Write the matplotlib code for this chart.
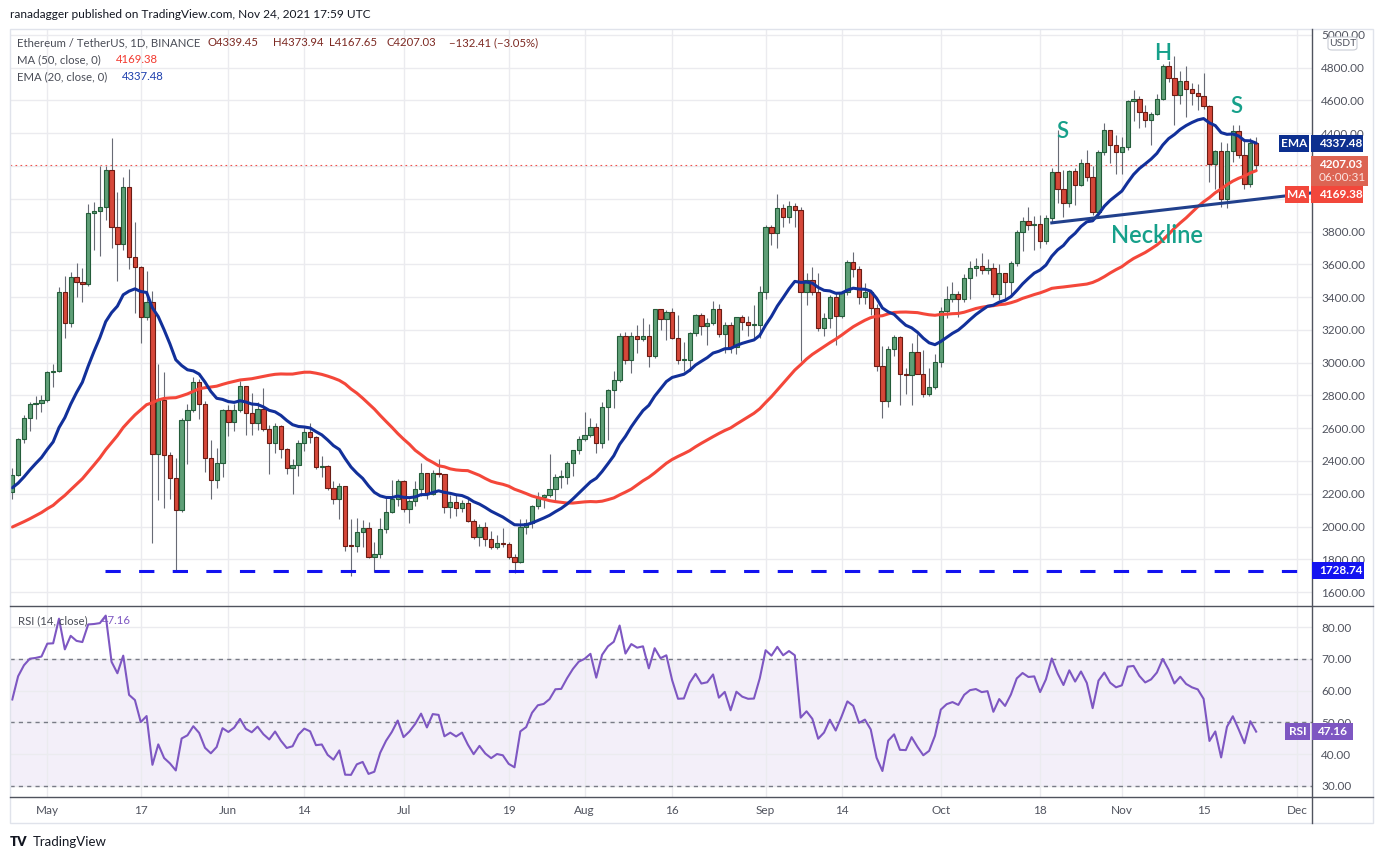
import numpy as np
import pandas as pd
import matplotlib
matplotlib.use("Agg")
import matplotlib.pyplot as plt
from matplotlib.patches import Rectangle, FancyBboxPatch
from matplotlib.lines import Line2D

W, H = 1383, 860
plt.rcParams['font.family'] = ['Lato', 'DejaVu Sans']

# daily closes before the visible window (Mar 6 - Apr 24), only used for MA/EMA/RSI warm-up
closes_before = [1655, 1725, 1835, 1870, 1795, 1826, 1772, 1924, 1854, 1792, 1806, 1823, 1781,
                 1812, 1810, 1787, 1690, 1672, 1583, 1587, 1701, 1716, 1692, 1817, 1847, 1919,
                 1977, 2143, 2028, 2093, 2107, 2113, 1963, 2083, 2071, 2135, 2157, 2139, 2299,
                 2432, 2514, 2422, 2355, 2237, 2163, 2331, 2357, 2402, 2364, 2210]

# visible candles, Apr 25 - Nov 24 2021 (ETH/USDT 1D)
close_apr = [2316, 2534, 2662, 2746, 2756, 2773]
high_apr = [2360, 2540, 2680, 2760, 2798, 2800]
low_apr = [2166, 2306, 2510, 2580, 2655, 2700]

close_may = [2945, 2950, 3431, 3240, 3525, 3490, 3482, 3912, 3925, 3950, 4176, 3826, 3723, 4074,
             3647, 3582, 3281, 3372, 2441, 2772, 2437, 2294, 2101, 2649, 2710, 2884, 2746, 2416,
             2284, 2386, 2711]
high_may = [2950, 2990, 3460, 3530, 3555, 3610, 3580, 3970, 3980, 4197, 4200, 4372, 4040, 4135,
            4180, 3860, 3590, 3560, 3440, 2990, 2945, 2455, 2420, 2660, 2750, 2915, 2900, 2765,
            2530, 2480, 2715]
low_may = [2760, 2850, 2940, 3150, 3220, 3400, 3370, 3470, 3690, 3650, 3870, 3700, 3500, 3690,
           3570, 3300, 3120, 3260, 1900, 2160, 2115, 2170, 1729, 2090, 2380, 2700, 2655, 2330,
           2170, 2235, 2300]

close_jun = [2636, 2711, 2860, 2690, 2630, 2715, 2593, 2508, 2613, 2471, 2355, 2375, 2508, 2579,
             2545, 2365, 2372, 2233, 2166, 2247, 1883, 1880, 1969, 1989, 1815, 1832, 1983, 2087,
             2168, 2276]
high_jun = [2740, 2745, 2890, 2860, 2815, 2760, 2845, 2620, 2630, 2620, 2480, 2410, 2525, 2610,
            2633, 2550, 2430, 2375, 2277, 2265, 2250, 2045, 2055, 2040, 2030, 1905, 2050, 2185,
            2285, 2290]
low_jun = [2550, 2580, 2700, 2560, 2560, 2590, 2580, 2320, 2450, 2420, 2320, 2200, 2310, 2460,
           2510, 2350, 2300, 2225, 2135, 2045, 1850, 1700, 1845, 1875, 1805, 1720, 1805, 1960,
           2080, 2125]

close_jul = [2105, 2156, 2227, 2325, 2197, 2325, 2318, 2117, 2148, 2112, 2142, 2034, 1938, 1995,
             1922, 1877, 1902, 1891, 1816, 1785, 1995, 2024, 2125, 2182, 2192, 2227, 2301, 2304,
             2386, 2465, 2532]
high_jul = [2282, 2165, 2280, 2390, 2325, 2347, 2410, 2320, 2190, 2190, 2160, 2180, 2045, 2018,
            2030, 1975, 1950, 1990, 1905, 1830, 2045, 2045, 2130, 2210, 2200, 2440, 2320, 2345,
            2400, 2470, 2550]
low_jul = [2090, 2020, 2125, 2185, 2170, 2195, 2300, 2085, 2055, 2065, 2090, 2030, 1925, 1880,
           1880, 1860, 1860, 1875, 1800, 1718, 1780, 1955, 1990, 2105, 2110, 2180, 2150, 2235,
           2260, 2310, 2445]

close_aug = [2559, 2607, 2508, 2728, 2833, 2894, 3163, 3015, 3163, 3143, 3163, 3043, 3326, 3265,
             3307, 3149, 3015, 3018, 3183, 3291, 3226, 3240, 3326, 3173, 3230, 3098, 3281, 3245,
             3230, 3232, 3430]
high_aug = [2697, 2665, 2630, 2760, 2840, 2950, 3180, 3185, 3185, 3230, 3275, 3235, 3330, 3330,
            3320, 3335, 3290, 3125, 3185, 3295, 3305, 3270, 3375, 3360, 3245, 3250, 3280, 3290,
            3285, 3350, 3470]
low_aug = [2520, 2545, 2450, 2480, 2530, 2725, 2880, 2990, 2935, 3060, 3130, 2975, 3030, 3200,
           3140, 3145, 2990, 2950, 2950, 3160, 3170, 3110, 3230, 3155, 3060, 3060, 3055, 3200,
           3160, 3150, 3150]

close_sep = [3826, 3790, 3942, 3887, 3956, 3930, 3433, 3505, 3430, 3210, 3271, 3403, 3287, 3433,
             3613, 3570, 3399, 3433, 3332, 2980, 2768, 3082, 3155, 2929, 2925, 3063, 2930, 2807,
             2850, 3002]
high_sep = [3840, 3840, 4030, 3970, 3985, 3975, 3952, 3550, 3585, 3550, 3300, 3415, 3425, 3440,
            3625, 3675, 3590, 3485, 3440, 3360, 3100, 3100, 3170, 3160, 2970, 3120, 3175, 3080,
            2965, 3050]
low_sep = [3390, 3720, 3700, 3830, 3850, 3830, 3010, 3350, 3410, 3195, 3160, 3210, 3110, 3270,
           3415, 3520, 3360, 3355, 3290, 2950, 2661, 2730, 3040, 2740, 2810, 2740, 2930, 2790,
           2795, 2840]

close_oct = [3315, 3389, 3417, 3389, 3515, 3576, 3590, 3566, 3576, 3417, 3545, 3491, 3607, 3796,
             3867, 3840, 3847, 3745, 3881, 4162, 4058, 3973, 4168, 4084, 4221, 4135, 3922, 4288,
             4420, 4329, 4288]
high_oct = [3340, 3470, 3490, 3440, 3540, 3620, 3640, 3670, 3630, 3610, 3600, 3545, 3620, 3810,
            3890, 3950, 3895, 3900, 3900, 4185, 4420, 4175, 4175, 4185, 4240, 4300, 4200, 4300,
            4460, 4420, 4390]
low_oct = [2975, 3270, 3370, 3280, 3370, 3390, 3530, 3540, 3540, 3400, 3380, 3390, 3415, 3590,
           3680, 3810, 3690, 3700, 3725, 3850, 3975, 3890, 3950, 3960, 4075, 4110, 3900, 3880,
           4270, 4220, 4150]

close_nov = [4315, 4597, 4610, 4532, 4481, 4520, 4610, 4811, 4736, 4634, 4720, 4668, 4644, 4630,
             4567, 4211, 4292, 3997, 4294, 4414, 4265, 4089, 4339, 4207.03]
high_nov = [4380, 4600, 4665, 4625, 4570, 4530, 4640, 4825, 4840, 4870, 4780, 4810, 4705, 4700,
            4770, 4570, 4300, 4345, 4340, 4450, 4450, 4350, 4370, 4373.94]
low_nov = [4150, 4300, 4475, 4430, 4440, 4330, 4510, 4605, 4710, 4450, 4580, 4500, 4570, 4540,
           4550, 4100, 4060, 3950, 3945, 4225, 4250, 4060, 4070, 4167.65]

tick_dates = ["2021-05-01", "2021-05-17", "2021-06-01", "2021-06-14", "2021-07-01", "2021-07-19",
              "2021-08-01", "2021-08-16", "2021-09-01", "2021-09-14", "2021-10-01", "2021-10-18",
              "2021-11-01", "2021-11-15", "2021-12-01"]
tick_labels = ["May", "17", "Jun", "14", "Jul", "19", "Aug", "16", "Sep", "14", "Oct", "18",
               "Nov", "15", "Dec"]

# values shown in the legend / price scale
last_open, last_high, last_low, last_close = 4339.45, 4373.94, 4167.65, 4207.03
last_change, last_change_pct = -132.41, -3.05
ma_last, ema_last, rsi_last = 4169.38, 4337.48, 47.16
support = 1728.74
hidden_price_labels = [4000, 4200]   # covered by the MA / last price tags

closes = np.array(close_apr + close_may + close_jun + close_jul + close_aug + close_sep
                  + close_oct + close_nov, dtype=float)
highs = np.array(high_apr + high_may + high_jun + high_jul + high_aug + high_sep
                 + high_oct + high_nov, dtype=float)
lows = np.array(low_apr + low_may + low_jun + low_jul + low_aug + low_sep
                + low_oct + low_nov, dtype=float)
opens = np.r_[closes_before[-1], closes[:-1]]
opens[-1] = last_open
highs = np.maximum(highs, np.maximum(opens, closes))
lows = np.minimum(lows, np.minimum(opens, closes))

dates = pd.date_range("2021-04-25", "2021-11-24", freq="D")
assert len(dates) == len(closes) == len(highs) == len(lows)
origin = pd.Timestamp("2021-05-01")
x = np.asarray((dates - origin).days, dtype=float)
tick_x = [(pd.Timestamp(d) - origin).days for d in tick_dates]

# indicators
n0 = len(closes_before)
s = pd.Series(closes_before + list(closes))
ma50 = s.rolling(50).mean().values[n0:]
ema20 = s.ewm(span=20, adjust=False).mean().values[n0:]
delta = s.diff()
up_avg = delta.clip(lower=0).ewm(alpha=1 / 14, adjust=False).mean()
dn_avg = (-delta.clip(upper=0)).ewm(alpha=1 / 14, adjust=False).mean()
rsi = (100 - 100 / (1 + up_avg / dn_avg)).values[n0:]

# =========================
# figure / panes
# =========================
fig = plt.figure(figsize=(W / 100, H / 100), dpi=100)
fig.patch.set_facecolor("white")


def rect(x0, y0, x1, y1):
    return [x0 / W, 1 - y1 / H, (x1 - x0) / W, (y1 - y0) / H]


ax = fig.add_axes(rect(10, 29, 1312, 606))
axr = fig.add_axes(rect(10, 606, 1312, 797))
XL = (-6.39, 216.56)
for a in (ax, axr):
    a.set_xlim(*XL)
    for sp in a.spines.values():
        sp.set_visible(False)
    a.set_xticks(tick_x)
    a.yaxis.tick_right()
    a.grid(True, color="#ebebef", lw=1, zorder=0)
    a.set_axisbelow(True)

txt_col = "#50535e"
ax.set_ylim(1515, 5036)
yt = np.arange(1600, 5001, 200)
ax.set_yticks(yt)
ax.set_yticklabels(["" if v in hidden_price_labels else f"{v:.2f}" for v in yt])
ax.tick_params(axis="x", length=0, labelbottom=False)
ax.tick_params(axis="y", length=0, pad=6.5, labelsize=8.5, labelcolor=txt_col)

# candles
up = closes >= opens
body_lo = np.minimum(opens, closes)
body_h = np.maximum(np.abs(closes - opens), 5)
ax.vlines(x, lows, highs, color="#686b75", lw=0.8, zorder=2)
ax.bar(x[up], body_h[up], bottom=body_lo[up], width=0.74, color="#5f9f77",
       edgecolor="#245d3a", lw=0.8, zorder=3)
ax.bar(x[~up], body_h[~up], bottom=body_lo[~up], width=0.74, color="#d6483a",
       edgecolor="#6b1c14", lw=0.8, zorder=3)

ax.plot(x, ma50, color="#f4473a", lw=2.2, zorder=4, solid_capstyle="round")
ax.plot(x, ema20, color="#12309a", lw=2.2, zorder=4, solid_capstyle="round")

# drawings
ax.plot([172.0, XL[1]], [3853, 4036], color="#21408c", lw=2.2, zorder=5)
ax.plot([9.9, XL[1]], [support, support], color="#1212f0", lw=2.2, dashes=(5, 6), zorder=5)
ax.axhline(last_close, color="#f0504a", lw=0.8, linestyle=(0, (1.5, 3)), zorder=1)

teal = "#16a08a"
ax.text(173.75, 4413, "S", color=teal, fontsize=16, ha="center", va="center", fontweight="semibold", zorder=6)
ax.text(191.0, 4884, "H", color=teal, fontsize=16, ha="center", va="center", fontweight="semibold", zorder=6)
ax.text(203.7, 4561, "S", color=teal, fontsize=16, ha="center", va="center", fontweight="semibold", zorder=6)
ax.text(190.0, 3773, "Neckline", color=teal, fontsize=17, ha="center", va="center", fontweight="semibold", zorder=6)

# RSI pane
axr.set_ylim(26.5, 86.7)
rt = [30, 40, 50, 60, 70, 80]
axr.set_yticks(rt)
axr.set_yticklabels([f"{v:.2f}" for v in rt])
axr.axhspan(30, 70, color="#7e57c2", alpha=0.09, lw=0, zorder=0.5)
for lv in (30, 50, 70):
    axr.axhline(lv, color="#787b86", lw=1, linestyle=(0, (3, 3)), zorder=1)
axr.plot(x, rsi, color="#7e57c2", lw=1.5, zorder=3)
axr.set_xticklabels(tick_labels)
axr.tick_params(axis="x", length=0, pad=5.5, labelsize=8.5, labelcolor=txt_col)
axr.tick_params(axis="y", length=0, pad=6.5, labelsize=8.5, labelcolor=txt_col)

# frame lines
def fline(xs, ys, color, lw=1.0):
    fig.add_artist(Line2D([v / W for v in xs], [1 - v / H for v in ys],
                          transform=fig.transFigure, color=color, lw=lw, zorder=8))


fig.add_artist(Rectangle((10 / W, 1 - 823 / H), 1363 / W, 794 / H, transform=fig.transFigure,
                         fill=False, ec="#e0e3eb", lw=1, zorder=8))
fline([10, 1373], [606, 606], "#50535e")
fline([10, 1373], [797, 797], "#50535e")
fline([1312, 1312], [29, 823], "#50535e")


# price-scale tags
def py(a, v):
    return H - a.transData.transform((0, v))[1]


def box(x0, x1, yc, h, fc):
    fig.add_artist(Rectangle((x0 / W, 1 - (yc + h / 2) / H), (x1 - x0) / W, h / H,
                             transform=fig.transFigure, fc=fc, ec="none", zorder=10))


def label(xp, yp, s, color="white", size=8.5, weight="bold", ha="left"):
    fig.text(xp / W, 1 - yp / H, s, color=color, fontsize=size, fontweight=weight,
             ha=ha, va="center", zorder=11)


y_ema = py(ax, ema_last)
box(1279, 1309, y_ema, 16.5, "#0c2f8f")
box(1311, 1363, y_ema, 16.5, "#0c2f8f")
label(1294, y_ema, "EMA", ha="center")
label(1319, y_ema, f"{ema_last:.2f}")

y_px = py(ax, last_close)
fig.add_artist(Rectangle((1311 / W, 1 - (y_px + 21.5) / H), 57 / W, 30 / H,
                         transform=fig.transFigure, fc="#dc6453", ec="none", zorder=10))
label(1319, y_px, f"{last_close:.2f}")
label(1319, y_px + 13, "06:00:31", color="#fbe3df", weight="normal")

y_ma = y_px + 29.5
box(1285, 1309, y_ma, 16.5, "#f2473b")
box(1311, 1363, y_ma, 16.5, "#f2473b")
label(1297, y_ma, "MA", ha="center")
label(1319, y_ma, f"{ma_last:.2f}")

y_sup = py(ax, support)
box(1312, 1364, y_sup, 17, "#1414f0")
label(1319, y_sup, f"{support:.2f}")

y_rsi = py(axr, rsi_last)
box(1285, 1310, y_rsi, 16.5, "#7e57c2")
box(1312, 1353, y_rsi, 16.5, "#7e57c2")
label(1297.5, y_rsi, "RSI", ha="center")
label(1317, y_rsi, f"{rsi_last:.2f}")

fig.add_artist(FancyBboxPatch((1328 / W, 1 - 50 / H), 29 / W, 13 / H,
                              boxstyle="round,pad=0,rounding_size=0.003",
                              transform=fig.transFigure, fc="white", ec="#c9ccd4", lw=0.8, zorder=10))
label(1342.5, 43.5, "USDT", color=txt_col, size=7.5, weight="normal", ha="center")

# header / legend texts
lg = 8.2
label(10, 14, "ranadagger published on TradingView.com, Nov 24, 2021 17:59 UTC",
      color="#131722", size=8.6, weight="normal")
label(17, 42.5, "Ethereum / TetherUS, 1D, BINANCE", color="#4a4d57", size=lg, weight="normal")
ohlc_col = "#7d2a23"
label(207, 42.5, f"O{last_open:.2f}", color=ohlc_col, size=lg, weight="normal")
label(272.5, 42.5, f"H{last_high:.2f}", color=ohlc_col, size=lg, weight="normal")
label(329, 42.5, f"L{last_low:.2f}", color=ohlc_col, size=lg, weight="normal")
label(386.5, 42.5, f"C{last_close:.2f}", color=ohlc_col, size=lg, weight="normal")
label(449, 42.5, f"\u2212{abs(last_change):.2f} (\u2212{abs(last_change_pct):.2f}%)",
      color=ohlc_col, size=lg, weight="normal")
label(17, 59.5, "MA (50, close, 0)", color="#4a4d57", size=lg, weight="normal")
label(116, 59.5, f"{ma_last:.2f}", color="#f23a30", size=lg, weight="normal")
label(17, 76.5, "EMA (20, close, 0)", color="#4a4d57", size=lg, weight="normal")
label(122, 76.5, f"{ema_last:.2f}", color="#1d3fae", size=lg, weight="normal")
label(18, 621, "RSI (14, close)", color="#4a4d57", size=lg, weight="normal")
label(102, 621, f"{rsi_last:.2f}", color="#7e57c2", size=lg, weight="normal")

# footer logo
label(10, 842, "TV", color="#131722", size=9.5, weight="heavy")
label(33, 842, "TradingView", color="#131722", size=9.5, weight="normal")

fig.savefig("out.png", dpi=100, facecolor="white")
plt.close(fig)
